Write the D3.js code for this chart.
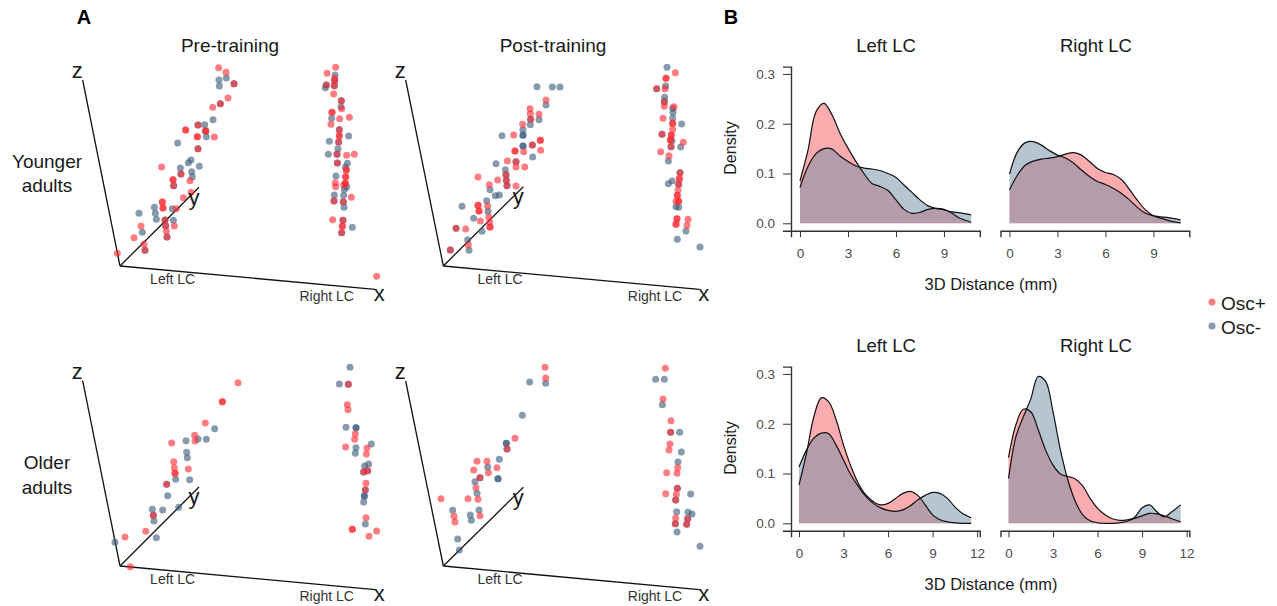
<!DOCTYPE html>
<html><head><meta charset="utf-8">
<script src="https://d3js.org/d3.v7.min.js"></script>
<style>html,body{margin:0;padding:0;background:#fff}svg{display:block}text{font-family:"Liberation Sans",Arial,sans-serif}</style>
</head><body><div id="c"></div>
<script>
// ---------- Panel A: projected positions ----------
const youngPreRed=[[476,53],[498,67],[522,101],[504,144],[481,161],[458,172],[414,225],[377,240],[377,240],[437,243],[437,243],[412,260],[412,260],[463,261],[414,296],[305,351],[363,372],[339,389],[339,389],[341,407],[390,392],[393,427],[370,443],[307,456],[307,456],[309,474],[309,474],[349,476],[315,510],[317,527],[343,528],[243,528],[319,544],[321,561],[222,563],[252,583],[255,601],[172,610],
[827,52],[801,70],[824,85],[824,92],[799,105],[823,107],[821,132],[844,152],[845,176],[816,187],[816,187],[839,206],[868,202],[813,223],[838,239],[838,257],[838,257],[836,276],[831,313],[860,316],[883,313],[832,339],[859,360],[859,360],[857,380],[857,380],[856,400],[856,400],[826,398],[827,410],[851,405],[874,442],[822,453],[850,455],[818,509],[849,511],[847,529],[847,529],[845,548],[950,679]];
const youngPreBlue=[[477,90],[499,84],[478,108],[522,101],[481,161],[459,209],[414,225],[434,224],[437,243],[439,260],[353,279],[414,296],[393,330],[385,338],[418,349],[361,354],[395,365],[397,381],[363,372],[341,407],[283,472],[337,476],[237,490],[286,490],[289,508],[340,511],[315,510],[317,527],[247,547],[321,561],[255,601],
[825,75],[824,92],[799,105],[796,113],[823,107],[844,152],[843,170],[815,205],[838,239],[866,258],[836,276],[808,274],[834,296],[805,313],[831,313],[862,340],[832,339],[856,352],[828,378],[860,411],[853,418],[823,435],[851,436],[822,453],[850,455],[852,472],[849,511],[877,532],[845,548]];
const youngPostRed=[[468,150],[420,176],[447,193],[421,191],[422,208],[398,223],[371,255],[451,271],[451,271],[427,285],[375,303],[375,303],[401,305],[452,301],[352,333],[378,335],[378,351],[404,351],[348,374],[349,391],[351,407],[264,381],[323,390],[298,404],[378,408],[264,466],[264,466],[293,468],[267,483],[267,483],[296,500],[271,513],[299,516],[300,531],[300,531],[198,535],[227,537],[235,585],[181,600],
[856,68],[828,85],[828,85],[800,116],[825,116],[823,155],[823,169],[852,170],[819,205],[848,220],[848,220],[848,238],[816,253],[844,255],[844,255],[841,270],[841,270],[843,290],[880,277],[812,305],[837,317],[870,368],[868,386],[868,386],[866,403],[864,420],[862,436],[862,436],[866,454],[866,454],[858,454],[861,506],[861,506],[858,523],[858,523],[894,508],[891,526]];
const youngPostBlue=[[441,110],[487,111],[510,111],[468,165],[447,209],[422,208],[421,224],[399,239],[336,257],[399,256],[399,256],[399,288],[399,288],[427,285],[428,321],[378,335],[318,341],[346,359],[348,374],[349,391],[351,407],[300,419],[316,437],[328,435],[290,452],[216,469],[294,484],[251,505],[198,535],[276,544],[233,569],[237,601],[181,600],
[831,52],[827,108],[800,116],[824,142],[823,155],[848,175],[849,187],[848,204],[875,222],[816,253],[846,272],[872,291],[843,290],[835,333],[870,368],[846,393],[835,401],[866,403],[858,470],[866,472],[888,543],[862,568],[930,591]];
const olderPreRed=[[534,83],[487,140],[487,140],[436,204],[404,241],[405,258],[335,264],[341,320],[343,338],[345,355],[345,355],[385,342],[320,388],[280,481],[257,529],[195,546],[211,635],
[865,88],[862,149],[864,164],[886,236],[884,253],[857,276],[921,279],[919,297],[911,351],[923,347],[918,385],[916,405],[918,488],[877,523],[877,523],[950,528],[927,544]];
const olderPreBlue=[[464,221],[414,252],[439,253],[378,257],[380,292],[382,308],[347,373],[389,374],[320,388],[323,422],[356,457],[277,463],[308,465],[280,481],[282,498],[289,548],[165,562],
[870,37],[838,87],[865,88],[858,217],[888,218],[888,218],[934,267],[888,278],[886,295],[926,327],[914,333],[911,351],[923,347],[916,405],[913,423],[913,423],[911,441],[916,507]];
const olderPostRed=[[465,37],[467,69],[375,250],[351,282],[261,319],[291,319],[321,338],[251,345],[295,353],[270,368],[258,398],[153,431],[234,431],[264,433],[192,484],[270,482],[195,501],
[826,40],[819,132],[843,197],[842,232],[840,267],[837,285],[863,338],[861,355],[830,353],[862,400],[859,418],[857,435],[827,416],[857,489],[856,506],[893,491],[890,508]];
const olderPostBlue=[[419,81],[467,85],[397,181],[349,265],[349,265],[351,282],[328,313],[293,336],[324,371],[324,371],[255,380],[270,368],[261,415],[188,466],[267,465],[241,480],[244,496],[203,552],[208,585],
[797,73],[823,73],[817,149],[842,232],[869,232],[874,291],[864,321],[862,400],[902,417],[857,435],[860,470],[894,472],[906,477],[856,506],[893,491],[890,508],[861,531],[930,574]];

// ---------- Panel B: density values ----------
const gridTop=[0,.5,1,1.5,2,2.5,3,3.5,4,4.5,5,5.5,6,6.5,7,7.5,8,8.5,9,9.5,10,10.7];
const gridBottom=[0,.5,1,1.5,2,2.5,3,3.5,4,4.5,5,5.5,6,6.5,7,7.5,8,8.5,9,9.5,10,10.5,11,11.6];
const youngLeftPos=[.085,.147,.224,.241,.218,.181,.151,.124,.1,.08,.074,.066,.047,.028,.02,.022,.028,.03,.028,.02,.01,.002];
const youngLeftNeg=[.072,.114,.14,.15,.149,.135,.124,.115,.111,.109,.106,.1,.092,.077,.062,.047,.035,.03,.027,.023,.021,.017];
const youngRightPos=[.067,.097,.117,.125,.129,.131,.134,.139,.142,.137,.124,.11,.102,.098,.088,.068,.046,.027,.015,.01,.005,.001];
const youngRightNeg=[.099,.144,.162,.164,.157,.146,.137,.131,.121,.107,.094,.084,.078,.07,.06,.047,.032,.02,.015,.013,.011,.007];
const olderLeftPos=[.077,.14,.214,.252,.244,.208,.157,.114,.08,.057,.044,.037,.04,.05,.06,.064,.056,.037,.017,.007,.003,.001,0,0];
const olderLeftNeg=[.113,.147,.171,.181,.18,.157,.127,.097,.074,.054,.04,.031,.026,.024,.027,.035,.047,.056,.062,.06,.05,.033,.02,.011];
const olderRightPos=[.132,.198,.229,.224,.188,.147,.117,.099,.094,.089,.075,.05,.03,.017,.009,.006,.007,.01,.015,.02,.019,.015,.009,.003];
const olderRightNeg=[.09,.174,.214,.25,.295,.285,.224,.147,.087,.044,.017,.005,.001,0,0,.001,.004,.012,.031,.037,.023,.013,.023,.037];
const yTicks=[0,.1,.2,.3];
const xTicksTop=[0,3,6,9];
const xTicksBottom=[0,3,6,9,12];
const legendLabels=["Osc+","Osc-"];

const W=1277,H=606;
const svg=d3.select("#c").append("svg").attr("width",W).attr("height",H);
const RED="#ff262f",BLUE="#37587a",INK="#1a1a1a";

function text(x,y,s,size,opt={}){
  const t=svg.append("text").attr("x",x).attr("y",y).text(s).attr("font-size",size)
    .attr("fill",opt.fill||INK).attr("text-anchor",opt.anchor||"middle")
    .attr("font-weight",opt.weight||"normal");
  if(opt.rotate) t.attr("transform",`rotate(${opt.rotate} ${x} ${y})`);
  return t;
}

const scatterPanels=[
 {ox:60,oy:50,red:youngPreRed,blue:youngPreBlue,o:[180,648],z:[68,90],y:[417,412],x:[945,718],shift:0},
 {ox:390,oy:50,red:youngPostRed,blue:youngPostBlue,o:[160,648],z:[47,90],y:[400,410],x:[928,718],shift:12},
 {ox:60,oy:355,red:olderPreRed,blue:olderPreBlue,o:[180,633],z:[68,77],y:[417,396],x:[945,704],shift:0},
 {ox:390,oy:355,red:olderPostRed,blue:olderPostBlue,o:[160,633],z:[47,78],y:[400,397],x:[928,704],shift:12}
];
scatterPanels.forEach(p=>{
  const sx=d3.scaleLinear().domain([0,990]).range([p.ox,p.ox+330]);
  const sy=d3.scaleLinear().domain([0,780]).range([p.oy,p.oy+260]);
  [p.z,p.y,p.x].forEach(e=>svg.append("line")
     .attr("x1",sx(p.o[0])).attr("y1",sy(p.o[1])).attr("x2",sx(e[0])).attr("y2",sy(e[1]))
     .attr("stroke","#111").attr("stroke-width",1.3));
  [[p.blue,BLUE],[p.red,RED]].forEach(([pts,c])=>{
    svg.append("g").selectAll("circle").data(pts).join("circle")
      .attr("cx",d=>sx(d[0])).attr("cy",d=>sy(d[1])).attr("r",3.5)
      .attr("fill",c).attr("fill-opacity",.6);
  });
  text(sx(p.z[0]-16),sy(p.z[1]-6),"z",22);
  text(sx(p.y[0]-15),sy(p.y[1]+52),"y",22);
  text(sx(p.x[0]+13),sy(p.x[1]+34),"x",22);
  text(sx(p.o[0]+158+p.shift),sy(p.o[1]+54),"Left LC",14,{fill:"#333"});
  text(sx(p.x[0]-145+p.shift),sy(p.x[1]+34),"Right LC",14,{fill:"#333"});
});

text(84,24,"A",20,{weight:"bold",fill:"#000"});
text(731,24,"B",20,{weight:"bold",fill:"#000"});
text(230,52,"Pre-training",19);
text(553,52,"Post-training",19);
text(47,168,"Younger",19);
text(47,192,"adults",19);
text(47,469,"Older",19);
text(47,494,"adults",19);

const densityPanels=[
 {top:74,grid:gridTop,ticks:xTicksTop,dom:[-.5625,11.24],pos:youngLeftPos,neg:youngLeftNeg,yAxis:true,title:"Left LC",left:791,cx:886},
 {top:74,grid:gridTop,ticks:xTicksTop,dom:[-.5625,11.24],pos:youngRightPos,neg:youngRightNeg,yAxis:false,title:"Right LC",left:1000.5,cx:1096},
 {top:374,grid:gridBottom,ticks:xTicksBottom,dom:[-.54,12.18],pos:olderLeftPos,neg:olderLeftNeg,yAxis:true,title:"Left LC",left:791,cx:886},
 {top:374,grid:gridBottom,ticks:xTicksBottom,dom:[-.54,12.18],pos:olderRightPos,neg:olderRightNeg,yAxis:false,title:"Right LC",left:1000.5,cx:1096}
];
const tickFont='"Liberation Sans",Arial,sans-serif';
densityPanels.forEach(p=>{
  const width=188.8, bottom=p.top+149.3, axisY=bottom+7.4;
  const x=d3.scaleLinear().domain(p.dom).range([p.left,p.left+width]);
  const y=d3.scaleLinear().domain([-.0149,.3148]).range([axisY,p.top-7.4]);
  const area=d3.area().x((d,i)=>x(p.grid[i])).y0(y(0)).y1(d=>y(d)).curve(d3.curveCatmullRom.alpha(.5));
  const line=d3.line().x((d,i)=>x(p.grid[i])).y(d=>y(d)).curve(d3.curveCatmullRom.alpha(.5));
  [[p.pos,"#f55a5f"],[p.neg,"#6e8ca5"]].forEach(([v,c])=>{
    svg.append("path").attr("d",area(v)).attr("fill",c).attr("fill-opacity",.5).attr("stroke","none");
  });
  [p.pos,p.neg].forEach(v=>svg.append("path").attr("d",line(v)).attr("fill","none").attr("stroke","#111").attr("stroke-width",1.2));
  const gx=svg.append("g").attr("transform",`translate(0,${axisY})`)
    .call(d3.axisBottom(x).tickValues(p.ticks).tickSizeOuter(0).tickSize(6.5).tickPadding(11).tickFormat(d3.format("d")));
  gx.select(".domain").attr("stroke","#333").attr("stroke-width",1.4);
  gx.selectAll(".tick line").attr("stroke","#333").attr("stroke-width",1);
  gx.selectAll("text").attr("font-size",13.5).attr("fill","#4d4d4d").style("font-family",tickFont);
  if(p.yAxis){
    const gy=svg.append("g").attr("transform",`translate(${p.left},0)`)
      .call(d3.axisLeft(y).tickValues(yTicks).tickSizeOuter(0).tickSize(8).tickPadding(8).tickFormat(d3.format(".1f")));
    gy.select(".domain").attr("stroke","#333").attr("stroke-width",1.4);
    gy.selectAll(".tick line").attr("stroke","#333").attr("stroke-width",1);
    gy.selectAll("text").attr("font-size",13.5).attr("fill","#4d4d4d").style("font-family",tickFont);
  }
  text(p.cx,p.top-22,p.title,18.5);
});
[148,448].forEach(cy=>text(736,cy,"Density",16,{rotate:-90}));
[290,590].forEach(cy=>text(991,cy,"3D Distance (mm)",16.5));

legendLabels.forEach((s,i)=>{
  const ly=302+i*24;
  svg.append("circle").attr("cx",1212).attr("cy",ly).attr("r",3.5).attr("fill",i?BLUE:RED).attr("fill-opacity",.6);
  text(1221,ly+8,s,19,{anchor:"start"});
});
</script></body></html>
